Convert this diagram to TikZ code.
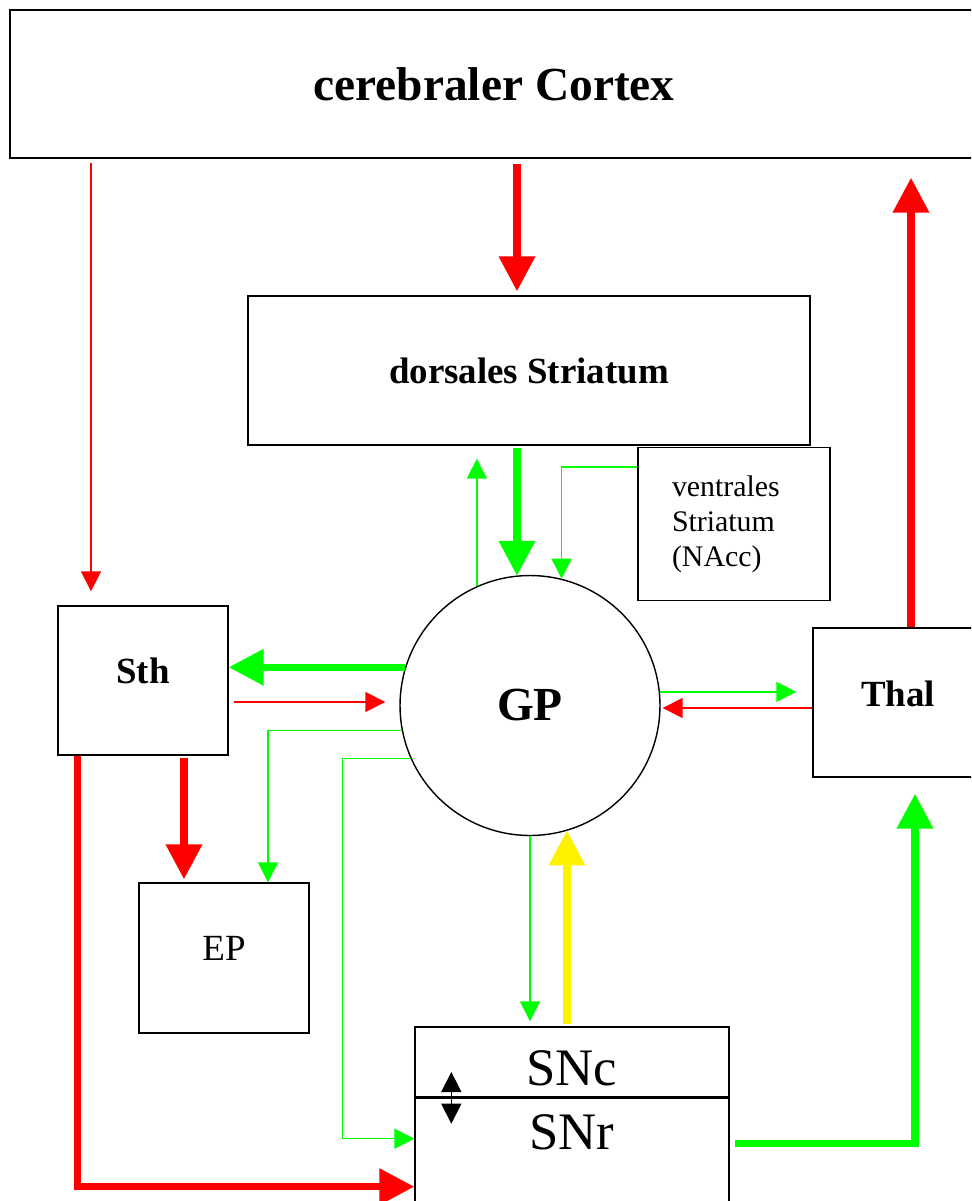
\documentclass[tikz,border=0pt]{standalone}
\usepackage{fontspec}
\setmainfont{Liberation Serif}
\usetikzlibrary{arrows.meta,positioning}

\begin{document}
\begin{tikzpicture}[x=0.02cm, y=-0.02cm,
    region/.style={draw, rectangle, line width=0.8pt, inner sep=0pt},
    thinarrow/.style={line width=0.85pt, -{Triangle[length=0.4cm, width=0.4cm]}},
    thickarrow/.style={line width=4pt, -{Triangle[length=0.7cm, width=0.7cm]}}]
        \clip (0,0) rectangle (971,1201);

        \node[region, minimum width=19.36cm, minimum height=2.96cm, text depth=0.04cm, font=\fontsize{27}{32}\selectfont\bfseries] (Cortex) at (494,84) {\raisebox{-0.04cm}{cerebraler Cortex}};
        \node[region, minimum width=11.24cm, minimum height=2.98cm, font=\fontsize{21}{25}\selectfont\bfseries] (dStr) at (529,370.5) {dorsales Striatum};
        \node[region, minimum width=3.84cm, minimum height=3.06cm, text width=2.48cm, align=left, font=\fontsize{17}{20}\selectfont] (vStr) at (734,524) {ventrales\\Striatum\\(NAcc)};
        \node[region, minimum width=3.4cm, minimum height=2.98cm, text depth=0.4cm, font=\fontsize{21}{25}\selectfont\bfseries] (Sth) at (143,680.5) {Sth};
        \node[region, minimum width=3.4cm, minimum height=2.98cm, text depth=0.36cm, font=\fontsize{21}{25}\selectfont\bfseries] (Thal) at (898,702.5) {Thal};
        \node[region, minimum width=3.4cm, minimum height=3cm, text depth=0.38cm, font=\fontsize{21}{25}\selectfont] (EP) at (224,958) {EP};
        \node[draw, circle, line width=0.8pt, minimum size=5.2cm, font=\fontsize{27}{32}\selectfont\bfseries] (GP) at (530,705.5) {GP};
        \node[region, minimum width=6.28cm, minimum height=1.4cm, text height=0.94cm, text depth=0cm, font=\fontsize{30}{36}\selectfont] (SNc) at (572,1062) {SNc};
        \node[region, below=0pt of SNc, minimum width=6.28cm, minimum height=4cm, text height=0.7cm, text depth=2.66cm, font=\fontsize{30}{36}\selectfont] (SNr) {SNr};

        % cortex
        \draw[thinarrow, red, shorten <=0.08cm] ([xshift=-1.04cm]Sth.north |- Cortex.south) -- ([xshift=-1.04cm,yshift=0.28cm]Sth.north);
        \draw[thickarrow, red, shorten <=0.1cm, shorten >=0.08cm] ([xshift=-0.24cm]dStr.north |- Cortex.south) -- ([xshift=-0.24cm]dStr.north);
        \draw[thickarrow, red, shorten >=0.38cm] ([xshift=0.26cm]Thal.north) -- ([xshift=0.26cm]Thal.north |- Cortex.south);

        % striatum
        \draw[thickarrow, green, shorten <=0.04cm, shorten >=-0.02cm] ([xshift=-0.24cm]dStr.south) -- ([xshift=-0.24cm]dStr.south |- GP.north);
        \draw[thinarrow, green, shorten >=0.26cm] (GP.114) -- (GP.114 |- dStr.south);
        \draw[thinarrow, green] ([yshift=-0.4cm]vStr.north west) -| (GP.76);

        % GP and Sth
        \draw[thickarrow, green] (GP.163) -- (GP.163 -| Sth.east);
        \draw[thinarrow, red, shorten <=0.1cm, shorten >=0.28cm] ([yshift=-0.43cm]Sth.east) -- ([yshift=-0.43cm]Sth.east -| GP.west);
        \draw[thinarrow, green] (GP.191) -| ([xshift=0.88cm]EP.north);
        \draw[thinarrow, green] (GP.204) -| ([xshift=-1.44cm,yshift=-0.82cm]SNr.north west) -- ([yshift=-0.82cm]SNr.north west);
        \draw[thickarrow, red, shorten <=0.04cm, shorten >=0.06cm] ([xshift=0.82cm]Sth.south) -- ([xshift=0.82cm]Sth.south |- EP.north);
        \draw[thickarrow, red] ([xshift=0.4cm]Sth.south west) |- ([yshift=-1.78cm]SNr.north west);

        % substantia nigra
        \draw[thinarrow, green, shorten >=0.1cm] (GP.south) -- (GP.south |- SNc.north);
        \draw[thickarrow, yellow, shorten <=0.04cm] ([xshift=-0.1cm]SNc.north) -- ([xshift=-0.1cm]SNc.north |- GP.287);
        \draw[line width=0.85pt, {Triangle[length=0.4cm, width=0.4cm]}-{Triangle[length=0.4cm, width=0.4cm]}] ([xshift=0.74cm,yshift=-0.2cm]SNc.west) -- ([xshift=0.74cm,yshift=-0.52cm]SNr.north west);

        % thalamus
        \draw[thinarrow, green, shorten >=0.32cm] (GP.6) -- (GP.6 -| Thal.west);
        \draw[thinarrow, red, shorten >=0.04cm] ([yshift=-0.11cm]Thal.west) -- ([yshift=-0.11cm]Thal.west -| GP.east);
        \draw[thickarrow, green, shorten <=0.1cm, shorten >=0.32cm] ([yshift=-0.92cm]SNr.north east) -| ([xshift=0.34cm]Thal.south);
\end{tikzpicture}
\end{document}
